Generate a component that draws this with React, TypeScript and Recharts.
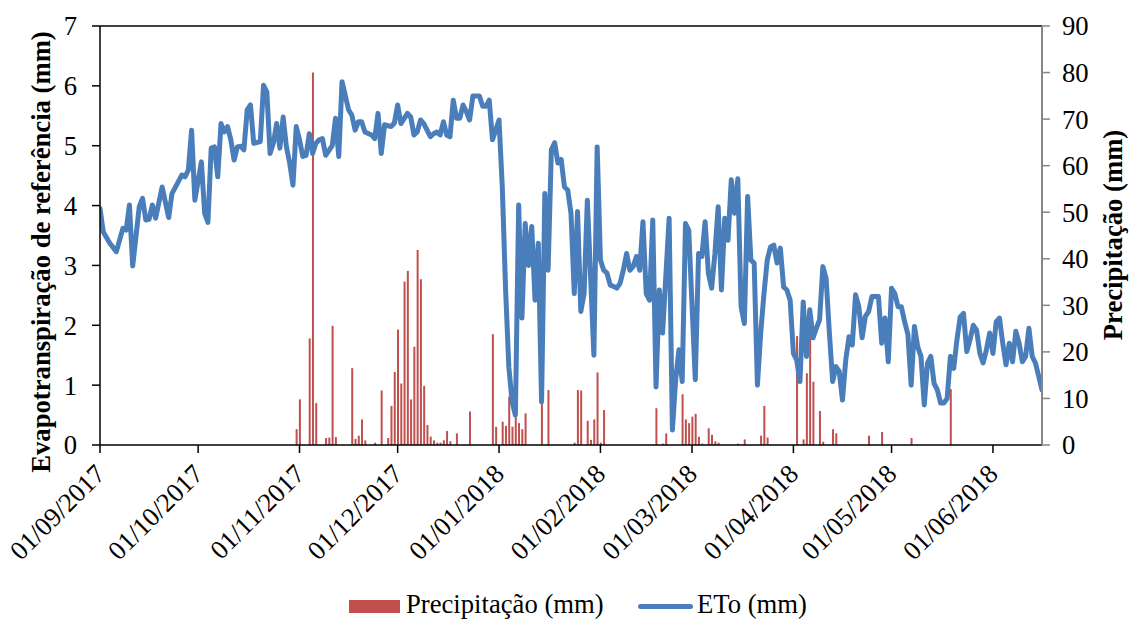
import React from 'react';
import { ComposedChart, Line, Bar, XAxis, YAxis, Legend, ReferenceLine } from 'recharts';

const FONT = '"Liberation Serif", "Times New Roman", serif';
const FS = 26.67;

// day index counted from 01/09/2017
const etoDays = [
  0, 1, 3, 5, 7, 8, 9, 10, 12, 13, 14, 15, 16, 17, 19, 21, 22, 25, 26, 27, 28, 29, 31, 32, 33, 34, 35, 36, 37, 38,
  39, 40, 41, 42, 43, 44, 45, 46, 47, 49, 50, 51, 52, 53, 54, 55, 56, 57, 58, 59, 60, 61, 62, 63, 64, 65, 66, 67, 68, 69,
  71, 72, 73, 74, 76, 77, 78, 79, 80, 81, 83, 84, 85, 86, 87, 89, 90, 91, 92, 94, 95, 96, 97, 98, 99, 101, 102, 103, 104, 105,
  106, 107, 108, 109, 110, 111, 112, 113, 114, 116, 117, 118, 119, 120, 121, 122, 123, 124, 125, 126, 127, 128, 129, 130, 131, 132, 133, 134, 135, 136,
  137, 138, 139, 140, 141, 142, 143, 144, 145, 146, 147, 148, 149, 151, 152, 153, 154, 155, 156, 157, 158, 159, 160, 161, 162, 163, 164, 165, 166, 167,
  168, 169, 170, 171, 172, 174, 175, 176, 177, 178, 179, 180, 182, 183, 184, 185, 186, 187, 188, 189, 190, 191, 192, 193, 194, 195, 196, 197, 198, 199,
  200, 201, 202, 203, 204, 205, 206, 207, 208, 209, 210, 211, 212, 213, 214, 215, 216, 217, 218, 219, 220, 221, 222, 223, 224, 225, 226, 227, 228, 229,
  230, 231, 232, 233, 234, 235, 236, 238, 239, 240, 241, 242, 243, 244, 245, 246, 247, 248, 249, 250, 251, 252, 253, 254, 255, 256, 257, 258, 259, 260,
  261, 262, 263, 264, 265, 266, 267, 268, 269, 270, 271, 272, 273, 274, 275, 276, 277, 278, 279, 280, 281, 282, 283, 284, 285, 286, 288,
];
const etoValues = [
  3.95, 3.56, 3.37, 3.23, 3.62, 3.59, 4.01, 2.99, 3.98, 4.12, 3.76, 3.77, 4.01, 3.79, 4.31, 3.8, 4.2, 4.51, 4.48, 4.59, 5.26, 4.09, 4.73, 3.87, 3.72, 4.96, 4.98, 4.48, 5.37, 5.23,
  5.32, 5.1, 4.76, 4.98, 4.99, 4.93, 5.6, 5.68, 5.04, 5.07, 6.01, 5.9, 4.87, 5.04, 5.37, 4.96, 5.48, 4.98, 4.71, 4.34, 5.32, 5.1, 4.82, 4.84, 5.2, 4.87, 5.04, 5.1, 5.12, 4.84,
  5.0, 5.46, 4.82, 6.07, 5.6, 5.51, 5.26, 5.4, 5.4, 5.23, 5.18, 5.12, 5.54, 4.87, 5.35, 5.32, 5.38, 5.68, 5.37, 5.54, 5.48, 5.18, 5.23, 5.43, 5.37, 5.15, 5.2, 5.23, 5.18, 5.4,
  5.18, 5.15, 5.76, 5.46, 5.46, 5.68, 5.57, 5.43, 5.83, 5.83, 5.66, 5.66, 5.76, 5.1, 5.26, 5.43, 4.3, 2.6, 1.3, 0.72, 0.5, 4.01, 2.12, 3.7, 3.0, 3.65, 2.42, 3.37, 0.72, 4.2,
  2.92, 4.93, 5.05, 4.71, 4.77, 4.31, 4.26, 3.87, 2.53, 3.9, 2.23, 2.53, 4.09, 1.5, 4.98, 3.09, 2.92, 2.87, 2.67, 2.65, 2.62, 2.7, 2.92, 3.2, 2.92, 2.98, 3.15, 2.92, 3.73, 2.53,
  2.42, 3.76, 0.97, 2.59, 1.87, 3.79, 0.25, 1.09, 1.59, 1.06, 3.7, 3.59, 1.09, 3.2, 3.15, 3.73, 2.87, 2.62, 3.2, 3.98, 2.59, 3.79, 3.42, 4.43, 3.87, 4.45, 2.31, 2.03, 4.15, 3.09,
  3.04, 1.0, 1.87, 2.53, 3.09, 3.31, 3.34, 3.04, 3.29, 2.64, 2.59, 2.42, 1.53, 1.42, 1.06, 2.39, 1.48, 2.26, 1.79, 1.95, 2.09, 2.98, 2.78, 1.87, 1.06, 1.31, 1.23, 0.75, 1.42, 1.81,
  1.67, 2.51, 2.31, 1.79, 2.15, 2.23, 2.48, 2.48, 1.7, 2.12, 1.39, 2.62, 2.53, 2.31, 2.31, 2.06, 1.85, 1.0, 1.98, 1.64, 1.48, 0.67, 1.37, 1.48, 1.03, 0.92, 0.7, 0.7, 0.78, 1.48,
  1.28, 1.76, 2.14, 2.2, 1.56, 1.76, 2.0, 1.92, 1.53, 1.37, 1.59, 1.87, 1.53, 2.06, 2.12, 1.7, 1.34, 1.7, 1.39, 1.9, 1.7, 1.39, 1.48, 1.95, 1.48, 1.37, 0.92,
];

const precDays = [
  60, 61, 64, 65, 66, 69, 70, 71, 72, 77, 78, 79, 80, 81, 84, 86, 88, 89, 90, 91, 92, 93, 94, 95, 96, 97, 98, 99, 100, 101,
  102, 103, 104, 105, 106, 107, 109, 113, 120, 121, 123, 124, 125, 126, 127, 128, 129, 130, 135, 137, 145, 146, 147, 149, 150, 151, 152, 153, 154, 170,
  172, 173, 178, 179, 180, 181, 182, 183, 184, 186, 187, 188, 189, 195, 197, 202, 203, 204, 213, 215, 216, 217, 218, 220, 221, 224, 225, 235, 239, 248,
  260,
];
const precValues = [
  3.4, 9.8, 22.9, 80.0, 9.0, 1.5, 1.6, 25.6, 1.7, 16.5, 1.3, 2.0, 5.5, 1.0, 0.5, 11.7, 1.5, 8.4, 15.7, 24.8, 13.2, 35.1, 37.4, 9.8, 21.1, 41.9, 35.6, 12.7, 4.3, 1.8,
  1.0, 0.5, 0.5, 1.0, 3.0, 0.8, 2.5, 7.2, 23.8, 3.9, 5.0, 4.1, 10.4, 3.9, 6.1, 4.7, 3.4, 6.8, 9.0, 11.8, 0.5, 11.8, 11.7, 5.2, 1.1, 5.5, 15.6, 0.5, 7.5, 7.9,
  0.3, 2.5, 10.9, 5.5, 4.7, 6.1, 6.7, 1.8, 0.3, 3.6, 2.2, 0.8, 0.5, 0.3, 1.2, 2.0, 8.4, 1.6, 23.4, 1.2, 15.4, 29.0, 13.6, 7.3, 0.7, 3.4, 2.5, 2.0, 2.8, 1.5,
  12.0,
];

const tickDays = [0, 30, 61, 91, 122, 153, 181, 212, 242, 273];
const tickLabels = [
  '01/09/2017', '01/10/2017', '01/11/2017', '01/12/2017', '01/01/2018',
  '01/02/2018', '01/03/2018', '01/04/2018', '01/05/2018', '01/06/2018',
];
const etoTicks = [0, 1, 2, 3, 4, 5, 6, 7];
const precTicks = [0, 10, 20, 30, 40, 50, 60, 70, 80, 90];
const LAST_DAY = 288;

type Row = { day: number; eto: number | null; prec: number | null };
const data: Row[] = [];
for (let d = 0; d <= LAST_DAY; d++) data.push({ day: d, eto: null, prec: null });
etoDays.forEach((d, i) => { data[d].eto = etoValues[i]; });
precDays.forEach((d, i) => { data[d].prec = precValues[i]; });

const XTick = (props: any) => {
  const { x, y, payload } = props;
  const idx = tickDays.indexOf(payload.value);
  const label = idx >= 0 ? tickLabels[idx] : '';
  return (
    <text
      x={x}
      y={y}
      transform={`rotate(-45 ${x} ${y})`}
      textAnchor="end"
      dy="0.35em"
      fontFamily={FONT}
      fontSize={FS}
      fill="#000"
    >
      {label}
    </text>
  );
};

const LeftTitle = () => (
  <text
    x={41}
    y={252}
    transform="rotate(-90 41 252)"
    textAnchor="middle"
    dominantBaseline="central"
    fontFamily={FONT}
    fontSize={FS}
    fontWeight="bold"
    fill="#000"
  >
    Evapotranspiração de referência (mm)
  </text>
);

const RightTitle = () => (
  <text
    x={1113}
    y={235}
    transform="rotate(-90 1113 235)"
    textAnchor="middle"
    dominantBaseline="central"
    fontFamily={FONT}
    fontSize={FS}
    fontWeight="bold"
    fill="#000"
  >
    Precipitação (mm)
  </text>
);

const LegendContent = () => (
  <div style={{ position: 'relative', width: 1129, height: 26, fontFamily: FONT, fontSize: FS, color: '#000' }}>
    <div style={{ position: 'absolute', left: 349, top: 7, width: 51, height: 13, background: '#C0504D' }} />
    <span style={{ position: 'absolute', left: 406, top: -4, lineHeight: '30px', whiteSpace: 'nowrap' }}>Precipitação (mm)</span>
    <div style={{ position: 'absolute', left: 638, top: 11, width: 55, height: 5, background: '#4A7EBB', borderRadius: 3 }} />
    <span style={{ position: 'absolute', left: 697, top: -4, lineHeight: '30px', whiteSpace: 'nowrap' }}>ETo (mm)</span>
  </div>
);

export default function App() {
  return (
    <div style={{ position: 'absolute', left: 0, top: 0, width: 1129, height: 619, background: '#fff', fontFamily: FONT }}>
      <ComposedChart
        width={1129}
        height={619}
        data={data}
        margin={{ top: 26, right: 0, bottom: 0, left: 0 }}
      >
        <XAxis
          dataKey="day"
          type="number"
          domain={[0, LAST_DAY]}
          ticks={tickDays}
          interval={0}
          height={148}
          tick={<XTick />}
          tickSize={8}
          tickMargin={16}
          axisLine={{ stroke: '#000', strokeWidth: 1.5 }}
          tickLine={{ stroke: '#000', strokeWidth: 1.5 }}
          allowDataOverflow
        />
        <YAxis
          yAxisId="eto"
          domain={[0, 7]}
          ticks={etoTicks}
          interval={0}
          width={100}
          tickSize={8}
          tickMargin={15}
          tick={{ fill: '#000', fontSize: FS, fontFamily: FONT }}
          axisLine={{ stroke: '#000', strokeWidth: 1.5 }}
          tickLine={{ stroke: '#000', strokeWidth: 1.5 }}
          label={LeftTitle}
        />
        <YAxis
          yAxisId="prec"
          orientation="right"
          domain={[0, 90]}
          ticks={precTicks}
          interval={0}
          width={87}
          tickSize={8}
          tickMargin={12}
          tick={{ fill: '#000', fontSize: FS, fontFamily: FONT }}
          axisLine={{ stroke: '#868686', strokeWidth: 2 }}
          tickLine={{ stroke: '#868686', strokeWidth: 1.5 }}
          label={RightTitle}
        />
        <ReferenceLine yAxisId="eto" y={7} stroke="#000" strokeWidth={1.5} />
        <Bar
          yAxisId="prec"
          dataKey="prec"
          fill="#C0504D"
          barSize={2}
          isAnimationActive={false}
        />
        <Line
          yAxisId="eto"
          dataKey="eto"
          type="linear"
          stroke="#4A7EBB"
          strokeWidth={5}
          strokeLinejoin="round"
          strokeLinecap="round"
          dot={false}
          activeDot={false}
          connectNulls
          isAnimationActive={false}
        />
        <Legend
          verticalAlign="bottom"
          height={26}
          content={LegendContent}
          wrapperStyle={{ left: 0, bottom: 0, width: 1129, height: 26 }}
        />
      </ComposedChart>
    </div>
  );
}
